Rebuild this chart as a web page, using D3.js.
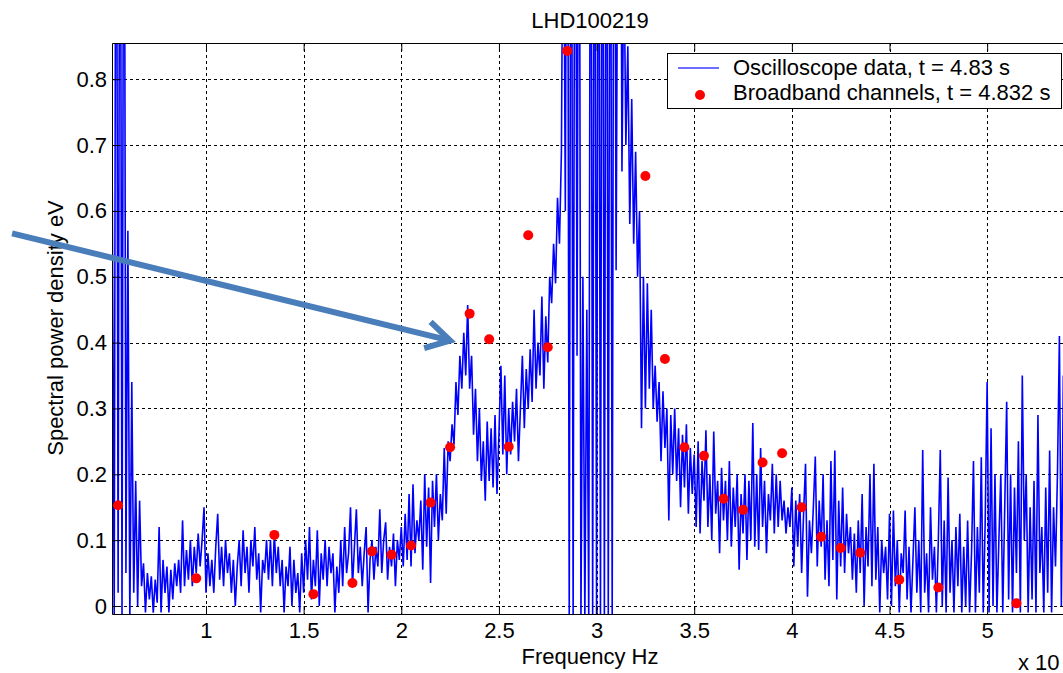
<!DOCTYPE html>
<html lang="en">
<head>
    <meta charset="UTF-8">
    <title>LHD100219 spectrum</title>
    <script src="https://d3js.org/d3.v7.min.js"></script>
    <style>
        body { margin: 0; background: #fff; }
        text { font-family: "Liberation Sans", Arial, sans-serif; fill: #000; }
    </style>
</head>
<body>
    <script>
        //Oscilloscope spectrum, one value per frequency bin (x 10^5 Hz)
        var freqStart = 0.52;
        var freqStep = 0.01;
        var scopePower = [
            0.63, -0.02, 1.5, 0.02, 1.5, -0.02, 1.5, 0.05, 0.57, -0.02,
            0.34, 0.02, 0.19, 0.00, 0.16, 0.03, 0.065, -0.01, 0.05, 0.01,
            0.045, -0.01, 0.04, 0.005, 0.12, -0.01, 0.07, 0.02, 0.06, -0.01,
            0.055, 0.01, 0.065, 0.03, 0.07, 0.02, 0.13, 0.03, 0.085, 0.04,
            0.1, 0.03, 0.09, 0.05, 0.11, 0.06, 0.1, 0.15, 0.02, 0.08,
            0.03, 0.07, 0.02, 0.09, 0.14, 0.04, 0.09, 0.03, 0.1, 0.05,
            0.08, 0.02, 0.07, 0.0, 0.06, 0.1, 0.03, 0.115, 0.05, 0.09,
            0.02, 0.1, 0.06, 0.12, 0.04, 0.08, -0.01, 0.07, 0.05, 0.1,
            0.04, 0.1, 0.03, 0.11, 0.05, 0.09, 0.03, 0.07, -0.01, 0.06,
            0.03, 0.09, 0.0, 0.07, 0.02, 0.05, -0.01, 0.08, 0.02, 0.1,
            0.04, 0.12, 0.01, 0.07, 0.03, 0.115, 0.0, 0.08, 0.04, 0.1,
            0.03, 0.09, 0.05, 0.08, -0.01, 0.06, 0.02, 0.1, 0.03, 0.12,
            0.05, 0.08, 0.15, 0.03, 0.09, 0.147, 0.05, 0.09, 0.03, 0.08,
            0.12, -0.01, 0.07, 0.1, 0.04, 0.09, 0.06, 0.147, 0.05, 0.1,
            0.127, 0.04, 0.09, 0.06, 0.11, 0.03, 0.1, 0.07, 0.12, 0.06,
            0.14, 0.07, 0.17, 0.06, 0.185, 0.08, 0.13, 0.1, 0.16, 0.055,
            0.2, 0.09, 0.18, 0.035, 0.19, 0.12, 0.2, 0.1, 0.17, 0.13,
            0.24, 0.14, 0.25, 0.22, 0.276, 0.245, 0.34, 0.29, 0.38, 0.33,
            0.415, 0.35, 0.457, 0.33, 0.38, 0.26, 0.33, 0.22, 0.3, 0.19,
            0.25, 0.16, 0.28, 0.19, 0.27, 0.18, 0.29, 0.17, 0.26, 0.365,
            0.23, 0.35, 0.2, 0.3, 0.23, 0.31, 0.25, 0.33, 0.22, 0.3,
            0.38, 0.27, 0.36, 0.3, 0.39, 0.31, 0.45, 0.33, 0.4, 0.35,
            0.47, 0.33, 0.44, 0.37, 0.5, 0.46, 0.55, 0.49, 0.62, 0.55,
            0.69, 1.2, 0.6, 1.5, -0.02, 1.5, -0.02, 1.5, 0.38, 1.5,
            -0.02, 0.5, -0.02, 0.45, -0.02, 1.5, -0.02, 1.5, -0.02, 1.5,
            -0.02, 1.5, -0.02, 1.5, -0.02, 1.5, -0.02, 1.5, 0.51, 1.2,
            1.5, 0.66, 1.0, 0.7, 0.85, 0.58, 0.77, 0.55, 0.69, 0.5,
            0.6, 0.27, 0.5, 0.3, 0.49, 0.33, 0.45, 0.3, 0.365, 0.28,
            0.34, 0.22, 0.326, 0.24, 0.3, 0.13, 0.29, 0.2, 0.3, 0.19,
            0.27, 0.15, 0.26, 0.18, 0.276, 0.14, 0.24, 0.17, 0.23, 0.12,
            0.25, 0.11, 0.22, 0.16, 0.267, 0.12, 0.2, 0.1, 0.265, 0.14,
            0.19, 0.08, 0.21, 0.13, 0.19, 0.1, 0.22, 0.09, 0.18, 0.12,
            0.2, 0.055, 0.17, 0.11, 0.2, 0.07, 0.19, 0.1, 0.278, 0.09,
            0.2, 0.085, 0.24, 0.12, 0.19, 0.08, 0.17, 0.13, 0.216, 0.11,
            0.2, 0.12, 0.19, 0.13, 0.16, 0.11, 0.15, 0.12, 0.18, 0.06,
            0.16, 0.09, 0.17, 0.05, 0.14, 0.216, 0.014, 0.13, 0.08, 0.15,
            0.227, 0.06, 0.16, 0.09, 0.2, 0.04, 0.13, 0.03, 0.22, 0.07,
            0.236, 0.01, 0.16, 0.06, 0.18, 0.05, 0.14, 0.08, 0.12, 0.04,
            0.11, 0.02, 0.13, 0.05, 0.17, 0.0, 0.12, 0.06, 0.2, 0.03,
            0.216, 0.04, 0.12, -0.01, 0.1, 0.05, 0.09, 0.01, 0.14, 0.0,
            0.145, 0.03, 0.1, -0.01, 0.08, 0.05, 0.145, 0.01, 0.09, -0.01,
            0.07, 0.15, 0.02, 0.1, -0.01, 0.237, 0.02, 0.08, -0.01, 0.15,
            0.04, 0.09, -0.01, 0.1, 0.237, 0.0, 0.13, -0.01, 0.195, 0.02,
            0.1, -0.01, 0.12, 0.03, 0.14, -0.01, 0.09, 0.0, 0.13, -0.01,
            0.08, 0.22, -0.01, 0.12, 0.02, 0.226, -0.01, 0.13, 0.34, -0.01,
            0.27, 0.0, 0.2, -0.01, 0.1, 0.2, -0.01, 0.15, 0.31, 0.01,
            0.2, -0.01, 0.18, 0.05, 0.25, -0.01, 0.35, 0.1, 0.2, -0.01,
            0.15, 0.01, 0.19, -0.01, 0.29, 0.05, 0.12, -0.01, 0.18, 0.02,
            0.236, -0.01, 0.15, 0.06, 0.2, 0.41, 0.0, 0.35, 0.08, 0.52,
            0.1, 0.3, 0.05, 0.2
        ];

        //Broadband channels
        var chanFreq = [0.55, 0.95, 1.35, 1.55, 1.75, 1.85, 1.95, 2.05, 2.15, 2.25,
            2.35, 2.45, 2.55, 2.65, 2.75, 2.85, 3.25, 3.35, 3.45, 3.55,
            3.65, 3.75, 3.85, 3.95, 4.05, 4.15, 4.25, 4.35, 4.55, 4.75, 5.15];
        var chanPower = [0.153, 0.042, 0.108, 0.018, 0.035, 0.083, 0.078, 0.092, 0.157, 0.241,
            0.444, 0.405, 0.242, 0.563, 0.393, 0.843, 0.653, 0.375, 0.241, 0.228,
            0.163, 0.146, 0.218, 0.232, 0.15, 0.105, 0.088, 0.081, 0.04, 0.028, 0.004];

        //Ticks
        var xTicks = [1, 1.5, 2, 2.5, 3, 3.5, 4, 4.5, 5];
        var yTicks = [0, 0.1, 0.2, 0.3, 0.4, 0.5, 0.6, 0.7, 0.8];

        //Annotation arrow, in data units
        var arrowFrom = [0.007, 0.566];
        var arrowTo = [2.25, 0.403];

        //SVG dimensions and plot box
        var w = 1063;
        var h = 673;
        var plotLeft = 112, plotRight = 1068, plotTop = 43, plotBottom = 614;
        var fontSize = 22;

        var svg = d3.select("body")
            .append("svg")
            .attr("width", w)
            .attr("height", h);

        var xScale = d3.scaleLinear()
            .domain([0.5187, 5.414])
            .range([plotLeft, plotRight]);

        var yScale = d3.scaleLinear()
            .domain([-0.01215, 0.855])
            .range([plotBottom, plotTop]);

        svg.append("defs").append("clipPath")
            .attr("id", "plotClip")
            .append("rect")
            .attr("x", plotLeft)
            .attr("y", plotTop)
            .attr("width", plotRight - plotLeft)
            .attr("height", plotBottom - plotTop);

        //Dotted grid
        var grid = svg.append("g")
            .attr("stroke", "#000")
            .attr("stroke-width", 1)
            .attr("stroke-dasharray", "3,3")
            .attr("shape-rendering", "crispEdges");
        grid.selectAll("line.gx")
            .data(xTicks)
            .enter()
            .append("line")
            .attr("class", "gx")
            .attr("x1", function(d) { return Math.round(xScale(d)) + 0.5; })
            .attr("x2", function(d) { return Math.round(xScale(d)) + 0.5; })
            .attr("y1", plotTop)
            .attr("y2", plotBottom);
        grid.selectAll("line.gy")
            .data(yTicks)
            .enter()
            .append("line")
            .attr("class", "gy")
            .attr("x1", plotLeft)
            .attr("x2", plotRight)
            .attr("y1", function(d) { return Math.round(yScale(d)) + 0.5; })
            .attr("y2", function(d) { return Math.round(yScale(d)) + 0.5; });

        //Oscilloscope trace
        var line = d3.line()
            .x(function(d, i) { return xScale(freqStart + i * freqStep); })
            .y(function(d) { return yScale(d); });

        svg.append("path")
            .datum(scopePower)
            .attr("clip-path", "url(#plotClip)")
            .attr("fill", "none")
            .attr("stroke", "#0000ff")
            .attr("stroke-width", 1.6)
            .attr("d", line);

        //Broadband channel points
        svg.append("g")
            .attr("clip-path", "url(#plotClip)")
            .selectAll("circle")
            .data(chanFreq)
            .enter()
            .append("circle")
            .attr("cx", function(d) { return xScale(d); })
            .attr("cy", function(d, i) { return yScale(chanPower[i]); })
            .attr("r", 5)
            .attr("fill", "#ff0000");

        //Axes box with inward ticks
        var xAxisB = d3.axisBottom(xScale).tickValues(xTicks).tickSizeInner(-8).tickSizeOuter(0)
            .tickPadding(8).tickFormat(d3.format("~g"));
        var xAxisT = d3.axisTop(xScale).tickValues(xTicks).tickSizeInner(-8).tickSizeOuter(0)
            .tickFormat("");
        var yAxisL = d3.axisLeft(yScale).tickValues(yTicks).tickSizeInner(-8).tickSizeOuter(0)
            .tickPadding(5).tickFormat(d3.format("~g"));

        var gb = svg.append("g").attr("transform", "translate(0," + plotBottom + ")").call(xAxisB);
        var gt = svg.append("g").attr("transform", "translate(0," + plotTop + ")").call(xAxisT);
        var gl = svg.append("g").attr("transform", "translate(" + plotLeft + ",0)").call(yAxisL);
        [gb, gt, gl].forEach(function(g) {
            g.select(".domain").attr("stroke", "#000");
            g.selectAll(".tick line").attr("stroke", "#000");
            g.selectAll("text")
                .style("font-family", "'Liberation Sans', Arial, sans-serif")
                .style("font-size", fontSize + "px")
                .attr("fill", "#000");
        });
        svg.append("line")
            .attr("x1", plotRight).attr("x2", plotRight)
            .attr("y1", plotTop).attr("y2", plotBottom)
            .attr("stroke", "#000");

        //Titles
        svg.append("text")
            .attr("x", 590)
            .attr("y", 28)
            .attr("text-anchor", "middle")
            .style("font-size", fontSize + "px")
            .text("LHD100219");
        svg.append("text")
            .attr("x", 590)
            .attr("y", 664)
            .attr("text-anchor", "middle")
            .style("font-size", fontSize + "px")
            .text("Frequency Hz");
        svg.append("text")
            .attr("transform", "translate(63,328) rotate(-90)")
            .attr("text-anchor", "middle")
            .style("font-size", fontSize + "px")
            .text("Spectral power density eV");
        svg.append("text")
            .attr("x", 1018)
            .attr("y", 670)
            .style("font-size", fontSize + "px")
            .text("x 10");

        //Legend
        var legend = svg.append("g");
        legend.append("rect")
            .attr("x", 667.5)
            .attr("y", 53.5)
            .attr("width", 394)
            .attr("height", 55)
            .attr("fill", "#fff")
            .attr("stroke", "#000");
        legend.append("line")
            .attr("x1", 678).attr("x2", 719)
            .attr("y1", 68).attr("y2", 68)
            .attr("stroke", "#3d3dff")
            .attr("stroke-width", 1.3);
        legend.append("circle")
            .attr("cx", 700).attr("cy", 95)
            .attr("r", 5)
            .attr("fill", "#ff0000");
        legend.append("text")
            .attr("x", 733).attr("y", 75)
            .style("font-size", fontSize + "px")
            .text("Oscilloscope data, t = 4.83 s");
        legend.append("text")
            .attr("x", 733).attr("y", 100)
            .style("font-size", fontSize + "px")
            .text("Broadband channels, t = 4.832 s");

        //Annotation arrow
        var ax0 = xScale(arrowFrom[0]), ay0 = yScale(arrowFrom[1]);
        var ax1 = xScale(arrowTo[0]), ay1 = yScale(arrowTo[1]);
        var back = Math.atan2(ay0 - ay1, ax0 - ax1);
        var barb = 27, spread = Math.PI / 6;
        svg.append("line")
            .attr("x1", ax0).attr("y1", ay0)
            .attr("x2", ax1 + 3 * Math.cos(back)).attr("y2", ay1 + 3 * Math.sin(back))
            .attr("stroke", "#4a7ebb")
            .attr("stroke-width", 6);
        svg.append("path")
            .attr("d", "M" + (ax1 + barb * Math.cos(back - spread)) + "," + (ay1 + barb * Math.sin(back - spread)) +
                "L" + ax1 + "," + ay1 +
                "L" + (ax1 + barb * Math.cos(back + spread)) + "," + (ay1 + barb * Math.sin(back + spread)))
            .attr("fill", "none")
            .attr("stroke", "#4a7ebb")
            .attr("stroke-width", 6)
            .attr("stroke-linejoin", "miter");
    </script>
</body>
</html>
